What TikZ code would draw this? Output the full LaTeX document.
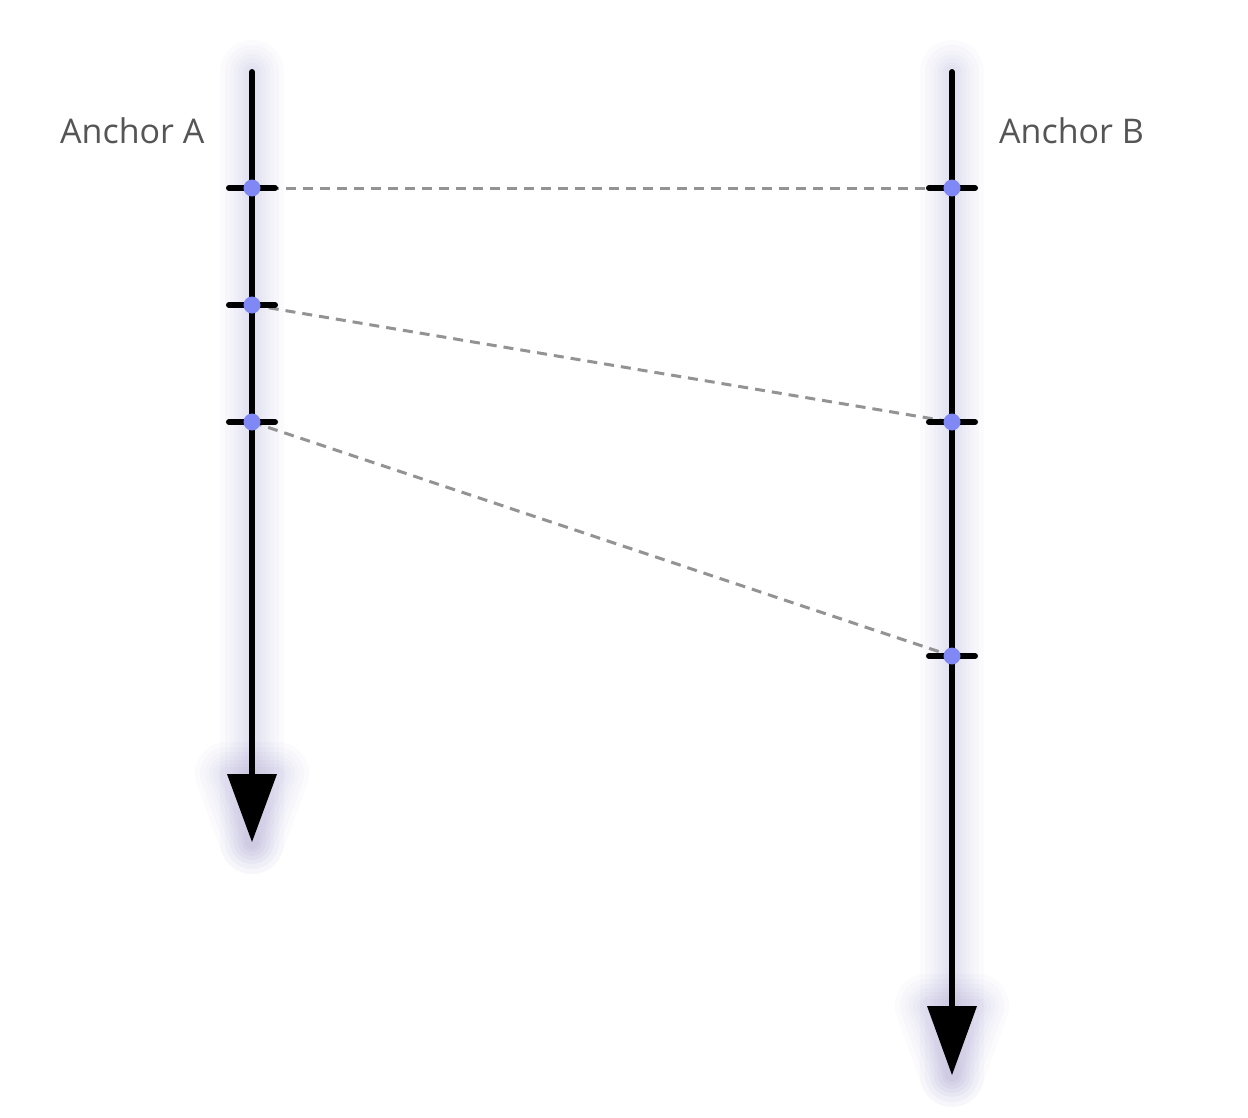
\documentclass[tikz,border=0pt]{standalone}
\usepackage{fontspec}
\setmainfont{Open Sans}
\definecolor{dotc}{HTML}{7F88F4}
\definecolor{dashc}{HTML}{939393}
\definecolor{txtc}{HTML}{555555}
\definecolor{glowc}{HTML}{4A3FA0}
\tikzset{
  axisline/.style={line width=6pt, line cap=round, black},
  tickline/.style={line width=6pt, line cap=round, black},
  link/.style={line width=3pt, dashc, dash pattern=on 10pt off 7pt},
  dot/.style={circle, fill=dotc, inner sep=0pt, minimum size=17pt},
  pt/.style={inner sep=0pt, minimum size=0pt},
  lbl/.style={font=\fontsize{34}{40}\selectfont, text=txtc, inner sep=0pt},
  glow/.style={line width=#1, glowc, opacity=0.018, line cap=round, line join=round},
}
\begin{document}
\begin{tikzpicture}[x=1pt,y=-1pt]
\useasboundingbox (0,0) rectangle (1248,1117);
\fill[white] (0,0) rectangle (1248,1117);
% anchor coordinates
\coordinate (Atop) at (252,72);
\coordinate (Abase) at (252,774);
\coordinate (Atip) at (252,842);
\coordinate (Btop) at (952,72);
\coordinate (Bbase) at (952,1006);
\coordinate (Btip) at (952,1075);
% glow
\foreach \w in {64,54,44,36,28,20,14} {
  \draw[glow=\w pt] (Atop) -- (Atip);
  \draw[glow=\w pt] (Btop) -- (Btip);
  \draw[glow=\w pt] ([xshift=-25pt]Abase) -- ([xshift=25pt]Abase) -- (Atip) -- cycle;
  \draw[glow=\w pt] ([xshift=-25pt]Bbase) -- ([xshift=25pt]Bbase) -- (Btip) -- cycle;
}
% event points
\node[pt] (a1) at (252,188) {};
\node[pt] (a2) at (252,305) {};
\node[pt] (a3) at (252,422) {};
\node[pt] (b1) at (952,188) {};
\node[pt] (b2) at (952,422) {};
\node[pt] (b3) at (952,656) {};
% links
\draw[link] (a1.center) -- (b1.center);
\draw[link] (a2.center) -- (b2.center);
\draw[link] (a3.center) -- (b3.center);
% axes
\draw[axisline] (Atop) -- (Abase);
\draw[axisline] (Btop) -- (Bbase);
\fill[black] ([xshift=-25pt]Abase) -- ([xshift=25pt]Abase) -- (Atip) -- cycle;
\fill[black] ([xshift=-25pt]Bbase) -- ([xshift=25pt]Bbase) -- (Btip) -- cycle;
% ticks and dots
\foreach \p in {a1,a2,a3,b1,b2,b3} {
  \draw[tickline] ([xshift=-23pt]\p.center) -- ([xshift=23pt]\p.center);
  \node[dot] at (\p.center) {};
}
% labels
\node[lbl, anchor=base west] (la) at (60,143) {Anchor A};
\node[lbl, anchor=base west] (lb) at (999,143) {Anchor B};
\end{tikzpicture}
\end{document}
